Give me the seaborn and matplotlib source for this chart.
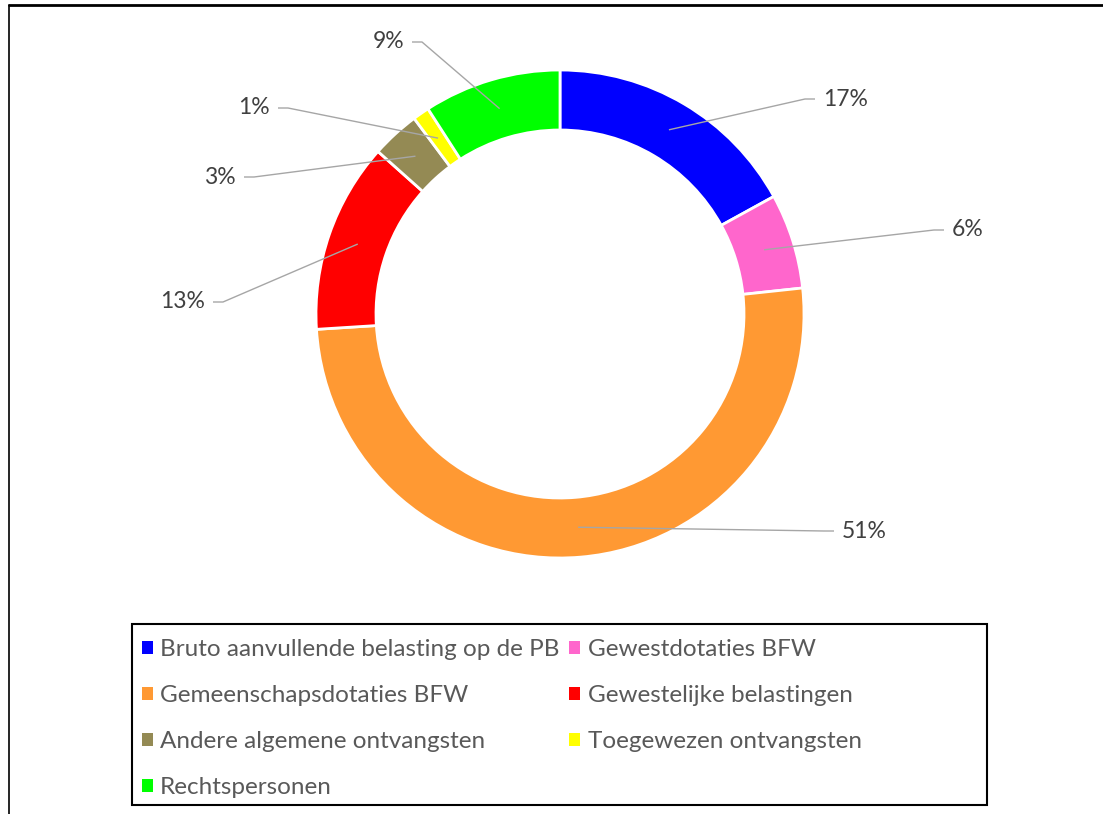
import matplotlib
matplotlib.use("Agg")
import matplotlib.pyplot as plt
import seaborn as sns
import numpy as np
from matplotlib.patches import Patch, Rectangle
from matplotlib.lines import Line2D

# ---- data ----
categories = [
    "Bruto aanvullende belasting op de PB",
    "Gewestdotaties BFW",
    "Gemeenschapsdotaties BFW",
    "Gewestelijke belastingen",
    "Andere algemene ontvangsten",
    "Toegewezen ontvangsten",
    "Rechtspersonen",
]
shares = [17.0, 6.3, 50.7, 12.6, 3.2, 1.1, 9.1]
pct_labels = [f"{round(s)}%" for s in shares]

# ---- style ----
colors = ["#0000FF", "#FF66CC", "#FF9933", "#FF0000", "#948A54", "#FFFF00", "#00FF00"]
# label text anchor positions in pixel space (x, y from top, alignment)
label_pos = [(823, 99, "left"), (952, 230, "left"), (842, 531, "left"),
             (205, 302, "right"), (236, 177, "right"), (270, 108, "right"),
             (404, 42, "right")]

sns.set_style("white")
plt.rcParams["font.family"] = ["Lato", "DejaVu Sans"]

W, H = 1103, 814
fig = plt.figure(figsize=(W / 100, H / 100), dpi=100)
ax = fig.add_axes([0, 0, 1, 1])

cx, cy = 560, H - 314
R, ring = 244, 60
wedges, _ = ax.pie(shares, colors=colors, startangle=90, counterclock=False,
                   radius=R, center=(cx, cy),
                   wedgeprops=dict(width=ring, edgecolor="white", linewidth=2.0))
ax.set_xlim(0, W)
ax.set_ylim(0, H)
ax.set_aspect("equal")
ax.axis("off")

# data labels with leader lines
rmid = R - ring / 2
for w, txt, (tx, ty, ha) in zip(wedges, pct_labels, label_pos):
    ang = np.deg2rad((w.theta1 + w.theta2) / 2)
    axp, ayp = cx + rmid * np.cos(ang), cy + rmid * np.sin(ang)
    yy = H - ty
    sgn = -1 if ha == "left" else 1
    ax.plot([axp, tx + sgn * 18, tx + sgn * 8], [ayp, yy, yy],
            color="#A6A6A6", lw=1.0, solid_capstyle="butt", zorder=3)
    ax.text(tx, yy, txt, ha=ha, va="center", fontsize=16.5, color="#404040", zorder=4)

# legend (row-major order as in reference)
order = [0, 2, 4, 6, 1, 3, 5]
handles = [Patch(facecolor=colors[i], edgecolor="none", label=categories[i]) for i in order]
fig.legend(handles=handles, ncol=2, loc="upper left",
           bbox_to_anchor=(142 / W, 1 - 639 / H), frameon=False,
           fontsize=17.5, handlelength=0.45, handleheight=0.45, handletextpad=0.3,
           columnspacing=0.4, labelspacing=1.03, borderpad=0, borderaxespad=0,
           labelcolor="#595959")

# legend box
ax.add_patch(Rectangle((132, H - 805), 987 - 132, 805 - 624, fill=False,
                       edgecolor="black", lw=1.5, zorder=5))
# outer frame (top and left edges visible)
ax.add_line(Line2D([9, W], [H - 5, H - 5], color="black", lw=2.0))
ax.add_line(Line2D([9, 9], [H - 5, 0], color="black", lw=1.2))

fig.savefig("out.png", dpi=100)
